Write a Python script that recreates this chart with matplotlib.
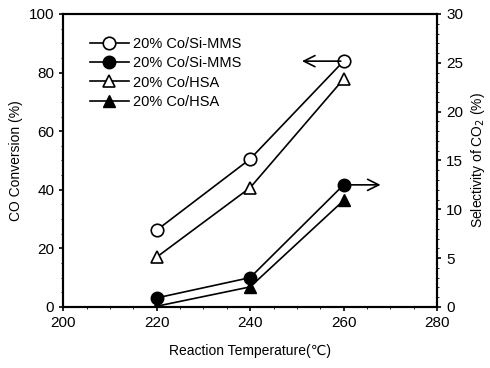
import matplotlib
matplotlib.use("Agg")
import matplotlib.pyplot as plt
from matplotlib.ticker import MultipleLocator

plt.rcParams['font.family'] = ['Liberation Sans', 'DejaVu Sans']

# data
temps = [220, 240, 260]
conv_simms = [26.2, 50.5, 83.9]     # CO conversion, left axis
conv_hsa = [17.0, 40.7, 77.8]
sel_simms = [0.92, 3.0, 12.5]       # CO2 selectivity, right axis
sel_hsa = [0.07, 2.05, 10.9]
label_simms = "20% Co/Si-MMS"
label_hsa = "20% Co/HSA"

fig = plt.figure(figsize=(4.9, 3.68), dpi=100)
ax = fig.add_axes([0.129, 0.166, 0.763, 0.796])
ax2 = ax.twinx()

ms = 9
l1, = ax.plot(temps, conv_simms, 'k-', marker='o', mfc='white', mec='black',
              ms=ms, lw=1.2, mew=1.2, label=label_simms)
l3, = ax.plot(temps, conv_hsa, 'k-', marker='^', mfc='white', mec='black',
              ms=ms, lw=1.2, mew=1.2, label=label_hsa)
l2, = ax2.plot(temps, sel_simms, 'k-', marker='o', mfc='black', mec='black',
               ms=ms, lw=1.2, label=label_simms)
l4, = ax2.plot(temps, sel_hsa, 'k-', marker='^', mfc='black', mec='black',
               ms=ms, lw=1.2, label=label_hsa)

ax.set_xlim(200, 280)
ax.set_ylim(0, 100)
ax2.set_ylim(0, 30)
ax.set_xticks([200, 220, 240, 260, 280])
ax.set_yticks([0, 20, 40, 60, 80, 100])
ax2.set_yticks([0, 5, 10, 15, 20, 25, 30])
ax.xaxis.set_minor_locator(MultipleLocator(5))
ax.yaxis.set_minor_locator(MultipleLocator(5))
ax2.yaxis.set_minor_locator(MultipleLocator(1))

for a in (ax, ax2):
    a.tick_params(which='major', direction='out', length=3, width=1.2,
                  labelsize=11)
    a.tick_params(which='minor', direction='out', length=1.2, width=0.6)
    for s in a.spines.values():
        s.set_linewidth(1.5)

ax.set_xlabel("Reaction Temperature(\u2103)", fontsize=10, labelpad=10)
ax.set_ylabel("CO Conversion (%)", fontsize=10)
ax2.set_ylabel("Selectivity of CO$_2$ (%)", fontsize=10)

# arrows pointing to the axes
ax.annotate("", xy=(250.5, conv_simms[2]), xytext=(260, conv_simms[2]),
            arrowprops=dict(arrowstyle='->', color='black', lw=1.2,
                            mutation_scale=20))
ax2.annotate("", xy=(268.5, sel_simms[2]), xytext=(260, sel_simms[2]),
             arrowprops=dict(arrowstyle='->', color='black', lw=1.2,
                             mutation_scale=20))

ax.legend(handles=[l1, l2, l3, l4], loc='upper left',
          bbox_to_anchor=(0.055, 0.94), frameon=False, fontsize=10.5,
          handlelength=2.7, handletextpad=0.3, labelspacing=0.35,
          borderaxespad=0)

fig.savefig("out.png", dpi=100)
